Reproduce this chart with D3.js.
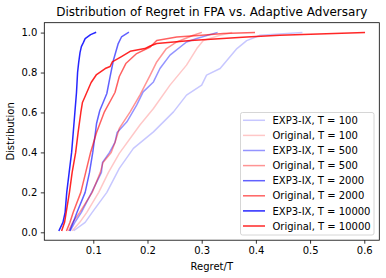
<!DOCTYPE html>
<html><head><meta charset="utf-8">
<script src="https://cdn.jsdelivr.net/npm/d3@7"></script>
<style>body{margin:0;background:#fff}svg{display:block}text{font-family:"DejaVu Sans",sans-serif;fill:#000}</style>
</head><body>
<script>
// cumulative probability levels and Regret/T values for each series
const exp100P = [0.01,0.05,0.1,0.2,0.32,0.42,0.503,0.603,0.687,0.737,0.787,0.82,0.92,0.96,0.987,1.0];
const exp100X = [0.065,0.085,0.098,0.125,0.148,0.174,0.211,0.248,0.272,0.300,0.309,0.334,0.365,0.383,0.408,0.4845];
const orig100P = [0.01,0.05,0.1,0.2,0.3,0.395,0.537,0.62,0.737,0.837,0.92,0.96,0.987,1.0];
const orig100X = [0.062,0.075,0.088,0.110,0.128,0.148,0.186,0.211,0.2415,0.272,0.291,0.303,0.334,0.355];
const exp500P = [0.01,0.05,0.1,0.2,0.3,0.35,0.4,0.45,0.5,0.553,0.637,0.703,0.753,0.82,0.887,0.953,0.97,1.0];
const exp500X = [0.058,0.066,0.078,0.097,0.115,0.117,0.130,0.140,0.144,0.162,0.180,0.192,0.211,0.223,0.2415,0.272,0.291,0.328];
const orig500P = [0.01,0.05,0.1,0.2,0.3,0.35,0.4,0.45,0.52,0.603,0.687,0.787,0.853,0.92,0.953,0.987,1.0];
const orig500X = [0.055,0.062,0.075,0.098,0.113,0.118,0.133,0.140,0.148,0.168,0.186,0.205,0.217,0.235,0.254,0.2845,0.299];
const exp2000P = [0.01,0.05,0.1,0.2,0.3,0.4,0.5,0.545,0.61,0.695,0.78,0.86,0.945,0.978,1.0];
const exp2000X = [0.057,0.063,0.070,0.085,0.093,0.099,0.104,0.106,0.112,0.125,0.131,0.137,0.146,0.152,0.1646];
const orig2000P = [0.01,0.05,0.1,0.2,0.3,0.4,0.5,0.6,0.7,0.78,0.845,0.895,0.928,0.96,0.978,0.987,0.995,1.0];
const orig2000X = [0.051,0.057,0.063,0.077,0.086,0.095,0.106,0.120,0.140,0.148,0.160,0.180,0.205,0.217,0.254,0.300,0.340,0.397];
const exp10000P = [0.01,0.05,0.1,0.2,0.3,0.4,0.5,0.6,0.7,0.8,0.85,0.9,0.93,0.95,0.97,0.99,1.0];
const exp10000X = [0.037,0.044,0.048,0.051,0.0555,0.060,0.063,0.066,0.069,0.071,0.073,0.0755,0.078,0.0816,0.085,0.095,0.104];
const orig10000P = [0.01,0.05,0.1,0.2,0.3,0.4,0.5,0.6,0.65,0.7,0.75,0.79,0.82,0.83,0.853,0.88,0.906,0.92,0.933,0.945,0.96,0.978,0.987,1.0];
const orig10000X = [0.042,0.047,0.050,0.056,0.061,0.0675,0.072,0.077,0.080,0.088,0.096,0.106,0.122,0.131,0.135,0.152,0.168,0.195,0.205,0.217,0.28,0.383,0.444,0.600];

const seriesNames = ["EXP3-IX, T = 100","Original, T = 100","EXP3-IX, T = 500","Original, T = 500",
  "EXP3-IX, T = 2000","Original, T = 2000","EXP3-IX, T = 10000","Original, T = 10000"];
const seriesX = [exp100X,orig100X,exp500X,orig500X,exp2000X,orig2000X,exp10000X,orig10000X];
const seriesP = [exp100P,orig100P,exp500P,orig500P,exp2000P,orig2000P,exp10000P,orig10000P];
const seriesBase = ["#0000ff","#ff0000","#0000ff","#ff0000","#0000ff","#ff0000","#0000ff","#ff0000"];
const seriesAlpha = [0.22,0.22,0.42,0.42,0.62,0.62,0.85,0.85];
const xTicks = [0.1,0.2,0.3,0.4,0.5,0.6];
const yTicks = [0.0,0.2,0.4,0.6,0.8,1.0];

const W = 386, H = 278;
const m = {left:44.3, right:379.3, top:22.7, bottom:240.2};
const svg = d3.select("body").append("svg").attr("width",W).attr("height",H);
const x = d3.scaleLinear().domain([0.0096,0.6277]).range([m.left,m.right]);
const y = d3.scaleLinear().domain([-0.0395,1.0495]).range([m.bottom,m.top]);

const line = d3.line().x(d=>x(d[0])).y(d=>y(d[1]));
seriesX.forEach((xs,i)=>{
  const pts = xs.map((v,j)=>[v,seriesP[i][j]]);
  svg.append("path").datum(pts).attr("d",line).attr("fill","none")
    .attr("stroke",seriesBase[i]).attr("stroke-opacity",seriesAlpha[i])
    .attr("stroke-width",1.5).attr("stroke-linejoin","round").attr("stroke-linecap","square");
});

const xAxis = d3.axisBottom(x).tickValues(xTicks).tickFormat(d3.format(".1f")).tickSizeInner(3.5).tickSizeOuter(0).tickPadding(3.5);
const gx = svg.append("g").attr("transform",`translate(0,${m.bottom})`).call(xAxis);
const yAxis = d3.axisLeft(y).tickValues(yTicks).tickFormat(d3.format(".1f")).tickSizeInner(3.5).tickSizeOuter(0).tickPadding(3.5);
const gy = svg.append("g").attr("transform",`translate(${m.left},0)`).call(yAxis);
[gx,gy].forEach(g=>{
  g.select(".domain").remove();
  g.selectAll("line").attr("stroke","#000").attr("stroke-width",0.8);
  g.selectAll("text").style("font-size","10px").style("font-family","DejaVu Sans").attr("fill","#000");
});
svg.append("rect").attr("x",m.left).attr("y",m.top).attr("width",m.right-m.left).attr("height",m.bottom-m.top)
  .attr("fill","none").attr("stroke","#000").attr("stroke-width",0.8);

svg.append("text").attr("x",(m.left+m.right)/2).attr("y",16).attr("text-anchor","middle")
  .style("font-size","12px").text("Distribution of Regret in FPA vs. Adaptive Adversary");
svg.append("text").attr("x",(m.left+m.right)/2).attr("y",270).attr("text-anchor","middle")
  .style("font-size","10px").text("Regret/T");
svg.append("text").attr("transform",`translate(14,${(m.top+m.bottom)/2}) rotate(-90)`).attr("text-anchor","middle")
  .style("font-size","10px").text("Distribution");

// legend
const lg = svg.append("g");
lg.append("rect").attr("x",240.5).attr("y",112.5).attr("width",133.5).attr("height",122.5).attr("rx",2)
  .attr("fill","#fff").attr("fill-opacity",0.8).attr("stroke","#cccccc").attr("stroke-width",0.8);
seriesNames.forEach((n,i)=>{
  const yy = 120.3 + i*15.1;
  lg.append("line").attr("x1",243).attr("x2",265).attr("y1",yy).attr("y2",yy)
    .attr("stroke",seriesBase[i]).attr("stroke-opacity",seriesAlpha[i]).attr("stroke-width",1.5);
  lg.append("text").attr("x",272.5).attr("y",yy+3.6).style("font-size","10px").text(n);
});
</script>
</body></html>
